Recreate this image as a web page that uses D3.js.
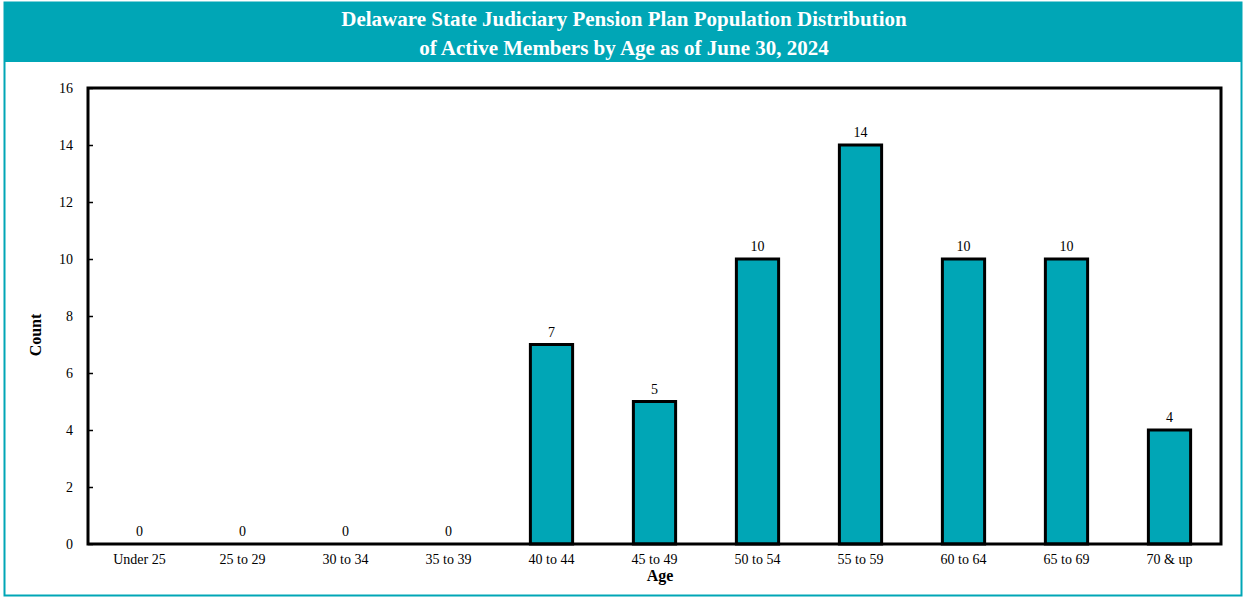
<!DOCTYPE html>
<html><head><meta charset="utf-8">
<script src="https://cdn.jsdelivr.net/npm/d3@7"></script>
<style>body{margin:0;background:#fff;} svg{display:block;font-family:"Liberation Serif","Times New Roman",serif;}</style>
</head><body>
<svg id="c" width="1245" height="598"></svg>
<script>
const categories = ["Under 25","25 to 29","30 to 34","35 to 39","40 to 44","45 to 49","50 to 54","55 to 59","60 to 64","65 to 69","70 & up"];
const counts = [0,0,0,0,7,5,10,14,10,10,4];
const yTicks = [0,2,4,6,8,10,12,14,16];
const titleLines = ["Delaware State Judiciary Pension Plan Population Distribution","of Active Members by Age as of June 30, 2024"];
const teal = "#00A6B6";

const svg = d3.select("#c");
// outer frame
svg.append("rect").attr("x",4.5).attr("y",2.5).attr("width",1237).attr("height",593)
  .attr("fill","#fff").attr("stroke",teal).attr("stroke-width",2);
svg.append("rect").attr("x",4).attr("y",2).attr("width",1238).attr("height",60).attr("fill",teal);
svg.selectAll("text.title").data(titleLines).join("text")
  .attr("x",624).attr("y",(d,i)=>26+i*29).attr("text-anchor","middle")
  .attr("fill","#fff").attr("font-weight","bold").attr("font-size",21).text(d=>d);

const L=88,R=1221,T=88,B=544;
const x = d3.scaleBand().domain(categories).range([L,R]).paddingInner(0.59).paddingOuter(0.295);
const y = d3.scaleLinear().domain([0,16]).range([B,T]);

// bars
svg.selectAll("rect.bar").data(counts).join("rect")
  .attr("x",(d,i)=>x(categories[i])).attr("width",x.bandwidth())
  .attr("y",d=>y(d)).attr("height",d=>B-y(d))
  .attr("fill",teal).attr("stroke","#000").attr("stroke-width",3)
  .attr("display",d=>d>0?null:"none");

// plot frame
svg.append("rect").attr("x",L).attr("y",T).attr("width",R-L).attr("height",B-T)
  .attr("fill","none").attr("stroke","#000").attr("stroke-width",3);

// y axis
const ya = svg.append("g").attr("transform",`translate(${L},0)`)
  .call(d3.axisRight(y).tickValues(yTicks).tickSize(5).tickFormat(""));
ya.select(".domain").remove();
ya.selectAll("line").attr("stroke","#000").attr("stroke-width",1.5);
svg.selectAll("text.yl").data(yTicks).join("text")
  .attr("x",73).attr("y",d=>y(d)+5).attr("text-anchor","end")
  .attr("font-size",14).attr("fill","#000").text(d=>d);

// x labels
const xa = svg.append("g").attr("transform",`translate(0,${B})`)
  .call(d3.axisBottom(x).tickSize(0).tickPadding(10));
xa.select(".domain").remove();
xa.selectAll("text").attr("font-size",14).attr("fill","#000").attr("font-family","Liberation Serif, serif");

// value labels
svg.selectAll("text.vl").data(counts).join("text")
  .attr("x",(d,i)=>x(categories[i])+x.bandwidth()/2).attr("y",d=>y(d)-8)
  .attr("text-anchor","middle").attr("font-size",14).attr("fill","#000").text(d=>d);

svg.append("text").attr("x",660).attr("y",581).attr("text-anchor","middle")
  .attr("font-weight","bold").attr("font-size",16).text("Age");
svg.append("text").attr("transform","translate(41,335) rotate(-90)").attr("text-anchor","middle")
  .attr("font-weight","bold").attr("font-size",16).text("Count");
</script>
</body></html>
